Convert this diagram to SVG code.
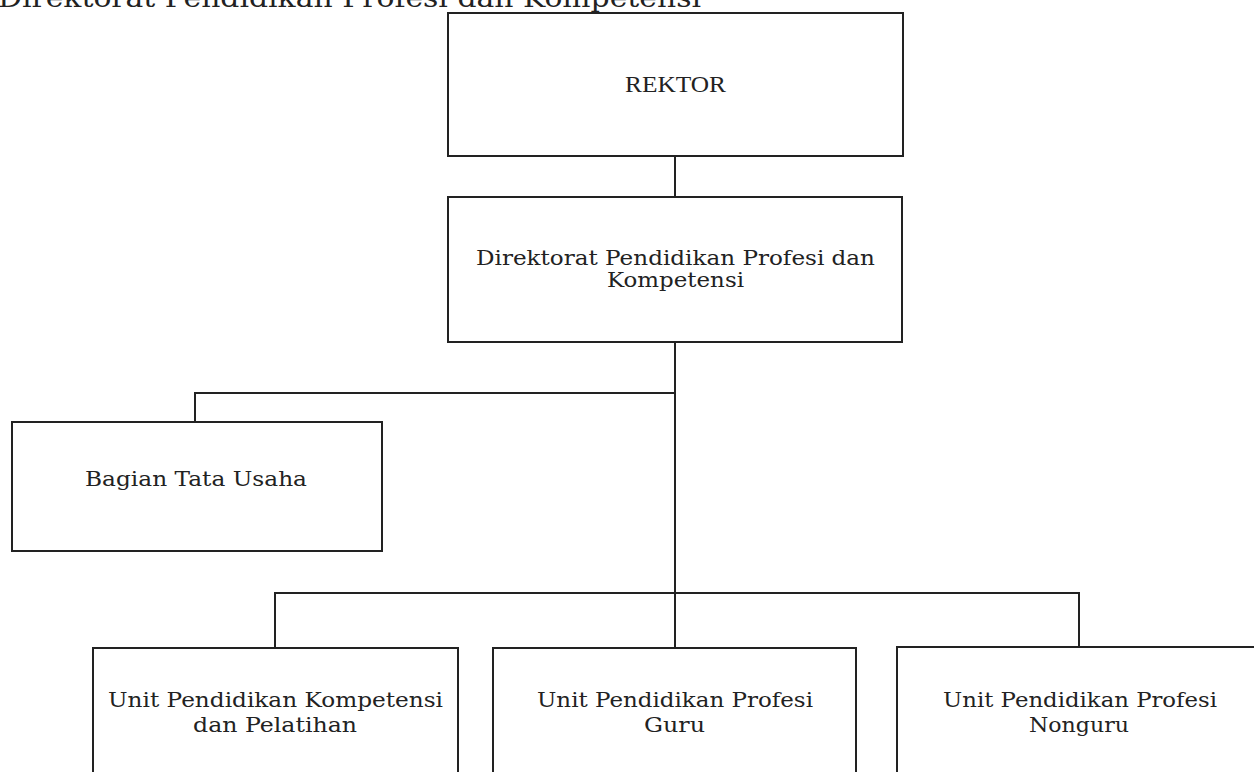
<svg xmlns="http://www.w3.org/2000/svg" width="1254" height="772" viewBox="0 0 1254 772">
<style>
.box{fill:#fff;stroke:#222;stroke-width:2}
.ln{fill:none;stroke:#222;stroke-width:2}
.t{font-family:"DejaVu Serif","Liberation Serif",serif;font-size:20.5px;fill:#222;text-anchor:middle}
.r{font-family:"Liberation Serif","DejaVu Serif",serif;font-size:23px;fill:#222;text-anchor:middle}
.title{font-family:"DejaVu Serif","Liberation Serif",serif;font-size:26px;fill:#222}
</style>
<rect width="1254" height="772" fill="#fff"/>
<text class="title" x="-2" y="7" textLength="703" lengthAdjust="spacingAndGlyphs">Direktorat Pendidikan Profesi dan Kompetensi</text>
<g id="connectors">
<path class="ln" d="M675,156 V197"/>
<path class="ln" d="M675,342 V648"/>
<path class="ln" d="M195,422 V393 H675"/>
<path class="ln" d="M275,648 V593 H1079 V647"/>
</g>
<g id="rektor">
<rect class="box" x="448" y="13" width="455" height="143"/>
<text class="r" x="675.5" y="92" textLength="101" lengthAdjust="spacingAndGlyphs">REKTOR</text>
</g>
<g id="direktorat">
<rect class="box" x="448" y="197" width="454" height="145"/>
<text class="t" x="675.5" y="265" textLength="399" lengthAdjust="spacingAndGlyphs">Direktorat Pendidikan Profesi dan</text>
<text class="t" x="675.5" y="287" textLength="137" lengthAdjust="spacingAndGlyphs">Kompetensi</text>
</g>
<g id="bagian">
<rect class="box" x="12" y="422" width="370" height="129"/>
<text class="t" x="196" y="486" textLength="222" lengthAdjust="spacingAndGlyphs">Bagian Tata Usaha</text>
</g>
<g id="unit-kompetensi">
<rect class="box" x="93" y="648" width="365" height="140"/>
<text class="t" x="275.5" y="707" textLength="335" lengthAdjust="spacingAndGlyphs">Unit Pendidikan Kompetensi</text>
<text class="t" x="275" y="732" textLength="164" lengthAdjust="spacingAndGlyphs">dan Pelatihan</text>
</g>
<g id="unit-guru">
<rect class="box" x="493" y="648" width="363" height="140"/>
<text class="t" x="675" y="707" textLength="276" lengthAdjust="spacingAndGlyphs">Unit Pendidikan Profesi</text>
<text class="t" x="674.5" y="732" textLength="61" lengthAdjust="spacingAndGlyphs">Guru</text>
</g>
<g id="unit-nonguru">
<rect class="box" x="897" y="647" width="370" height="140"/>
<text class="t" x="1080" y="707" textLength="274" lengthAdjust="spacingAndGlyphs">Unit Pendidikan Profesi</text>
<text class="t" x="1079" y="732" textLength="100" lengthAdjust="spacingAndGlyphs">Nonguru</text>
</g>
</svg>
